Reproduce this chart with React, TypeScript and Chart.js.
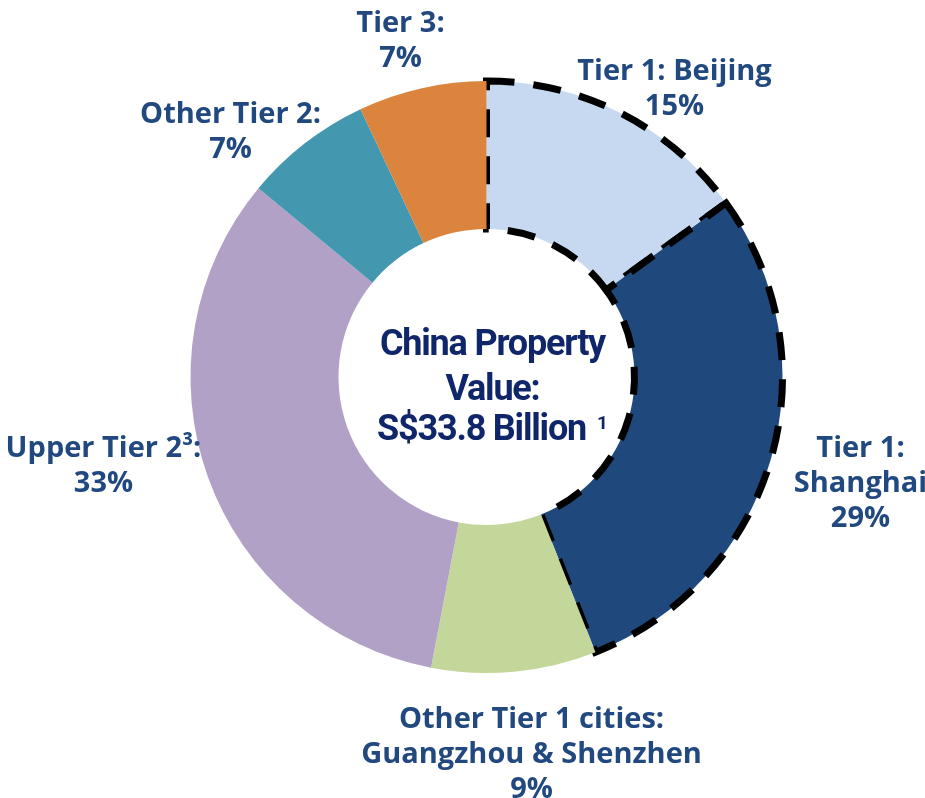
import React, { useEffect, useRef } from "react";
import { Chart, registerables } from "chart.js";

Chart.register(...registerables);

// ---- data ----
const categories = [
  "Tier 1: Beijing",
  "Tier 1: Shanghai",
  "Other Tier 1 cities: Guangzhou & Shenzhen",
  "Upper Tier 2",
  "Other Tier 2",
  "Tier 3",
];
const shares = [15, 29, 9, 33, 7, 7];
const dashedSlices = [true, true, false, false, false, false];
const labelLines = [
  ["Tier 1: Beijing", "15%"],
  ["Tier 1:", "Shanghai", "29%"],
  ["Other Tier 1 cities:", "Guangzhou & Shenzhen", "9%"],
  ["Upper Tier 2³:", "33%"],
  ["Other Tier 2:", "7%"],
  ["Tier 3:", "7%"],
];
const centerLines = ["China Property", "Value:", "S$33.8 Billion"];
const centerNote = "1";

// ---- styles / layout ----
const sliceColors = ["#C6D9F0", "#1F497D", "#C4D79B", "#B2A1C7", "#4398B0", "#DA843E"];
const LABEL_COLOR = "#21497F";
const CENTER_COLOR = "#10266A";
const LABEL_FONT = "700 29px 'Open Sans'";
const CENTER_FONT = "700 36px Roboto";
const CENTER_SPACING = "-1.2px";
const NOTE_FONT = "700 19px Roboto";
const LABEL_STEP = 35;
// label anchor (first-line baseline, centred) relative to the doughnut centre
const labelOffsets = [
  [188, -297],
  [374, 80],
  [45, 351],
  [-383, 80],
  [-256, -254],
  [-86, -345],
];
const centerOffsetX = 6;
const centerBaselines = [-22, 23, 63];

const labelPlugin = {
  id: "sliceLabels",
  afterDraw(chart: any) {
    const meta = chart.getDatasetMeta(0);
    const a0 = meta.data[0];
    if (!a0) return;
    const cx = a0.x;
    const cy = a0.y;
    const ctx = chart.ctx as CanvasRenderingContext2D;
    ctx.save();
    ctx.textAlign = "center";
    ctx.textBaseline = "alphabetic";
    ctx.fillStyle = LABEL_COLOR;
    ctx.font = LABEL_FONT;
    labelLines.forEach((lines, i) => {
      const [dx, dy] = labelOffsets[i];
      lines.forEach((t, j) => ctx.fillText(t, cx + dx, cy + dy + j * LABEL_STEP));
    });

    // centre text
    ctx.fillStyle = CENTER_COLOR;
    ctx.font = CENTER_FONT;
    (ctx as any).letterSpacing = CENTER_SPACING;
    const tx = cx + centerOffsetX;
    ctx.fillText(centerLines[0], tx, cy + centerBaselines[0]);
    ctx.fillText(centerLines[1], tx, cy + centerBaselines[1]);
    const w3 = ctx.measureText(centerLines[2]).width;
    ctx.font = NOTE_FONT;
    (ctx as any).letterSpacing = "0px";
    const wn = ctx.measureText(centerNote).width;
    const gap = 11;
    const total = w3 + gap + wn;
    const startX = tx - total / 2;
    ctx.textAlign = "left";
    ctx.font = CENTER_FONT;
    (ctx as any).letterSpacing = CENTER_SPACING;
    ctx.fillText(centerLines[2], startX, cy + centerBaselines[2]);
    ctx.font = NOTE_FONT;
    (ctx as any).letterSpacing = "0px";
    ctx.fillText(centerNote, startX + w3 + gap, cy + centerBaselines[2] - 11);
    ctx.restore();
  },
};

export default function App() {
  const ref = useRef<HTMLCanvasElement | null>(null);
  useEffect(() => {
    if (!ref.current) return;
    const chart = new Chart(ref.current, {
      type: "doughnut",
      data: {
        labels: categories,
        datasets: [
          {
            data: shares,
            backgroundColor: sliceColors,
            borderColor: "#000000",
            borderWidth: dashedSlices.map((d) => (d ? 7 : 0)),
            borderAlign: "center",
            borderJoinStyle: "miter",
            borderDash: (c: any) => (dashedSlices[c.dataIndex] ? [28, 19] : []),
          } as any,
        ],
      },
      options: {
        animation: false,
        responsive: false,
        maintainAspectRatio: false,
        cutout: "50%",
        radius: 296,
        layout: { padding: { left: 48, right: 0, top: 0, bottom: 44 } },
        plugins: {
          legend: { display: false },
          tooltip: { enabled: false },
        },
      } as any,
      plugins: [labelPlugin],
    });
    return () => chart.destroy();
  }, []);
  return (
    <div style={{ position: "absolute", left: 0, top: 0, width: 925, height: 798, background: "#fff" }}>
      <canvas ref={ref} width={925} height={798} />
    </div>
  );
}
